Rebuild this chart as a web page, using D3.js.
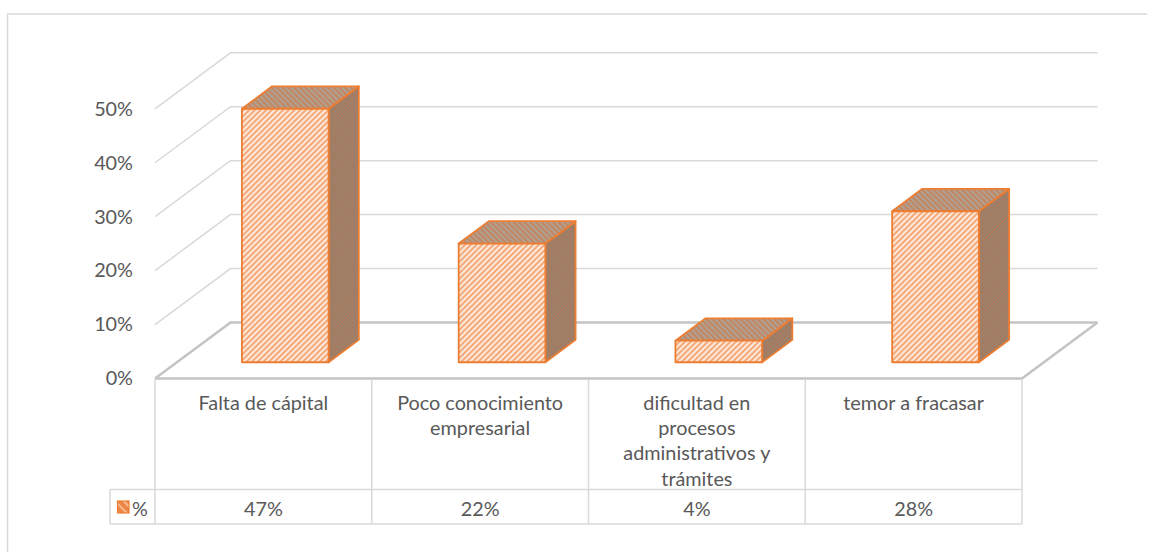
<!DOCTYPE html>
<html>
<head>
<meta charset="utf-8">
<script src="https://cdn.jsdelivr.net/npm/d3@7/dist/d3.min.js"></script>
<style>
  html, body { margin: 0; padding: 0; background: #ffffff; }
  svg { display: block; }
</style>
</head>
<body>
<svg id="chart" width="1155" height="552"></svg>
<script>
// ---- data ----
const categories = [
  "Falta de cápital",
  "Poco conocimiento empresarial",
  "dificultad en procesos administrativos y trámites",
  "temor a fracasar"
];
const seriesName = "%";
const values = [0.47, 0.22, 0.04, 0.28];
const tickValues = [0, 0.1, 0.2, 0.3, 0.4, 0.5];

// ---- layout ----
const W = 1155, H = 552;
const frontLeft = 155, frontRight = 1022;
const floorY = 378.5;
const depthDX = 75.5, depthDY = -56;      // oblique offset of the back wall
const barZ0 = 0.29, barZ1 = 0.69;          // bar depth inside the floor
const tableRowY = 489.5, tableBottom = 524, legendLeft = 110;
const textColor = "#595959";
const gridColor = "#d9d9d9";
const floorColor = "#c4c4c4";
const orange = "#ed7d31";
const fontFamily = "Lato, 'Open Sans', sans-serif";

const svg = d3.select("#chart");

// fit the label font so the text width matches the Calibri metrics of the layout
const probe = svg.append("text").attr("font-family", fontFamily).attr("font-size", 100)
  .text("Poco conocimiento");
const probeW = probe.node().getComputedTextLength();
probe.remove();
const fontSize = 100 * 166 / probeW;

const x = d3.scaleBand().domain(categories).range([frontLeft, frontRight])
  .paddingInner(0.6).paddingOuter(0.3);
const col = d3.scaleBand().domain(categories).range([frontLeft, frontRight]);
const y = d3.scaleLinear().domain([0, 0.5]).range([floorY, 108.8]);

function proj(px, v, z) {
  return [px + z * depthDX, y(v) + z * depthDY];
}
const line = d3.line();

// ---- patterns ----
const defs = svg.append("defs");
function hatch(id, bg, fg, size, width, angle) {
  const p = defs.append("pattern").attr("id", id)
    .attr("patternUnits", "userSpaceOnUse")
    .attr("width", size).attr("height", size)
    .attr("patternTransform", `rotate(${angle})`);
  p.append("rect").attr("width", size).attr("height", size).attr("fill", bg);
  p.append("line").attr("x1", size / 2).attr("y1", 0).attr("x2", size / 2).attr("y2", size)
    .attr("stroke", fg).attr("stroke-width", width);
}
hatch("hFront", "#fde8da", "#f29a62", 4, 1.6, 45);
hatch("hTop", "#b1a092", "#c77e52", 4, 1.5, -45);
hatch("hSide", "#968373", "#b1744f", 3, 1.2, 45);
hatch("hKey", "#ee8443", "#f9c9a8", 6, 1.6, -45);

// ---- outer frame ----
svg.append("path").attr("d", line([[7.5, H], [7.5, 14], [1147, 14]]))
  .attr("fill", "none").attr("stroke", gridColor).attr("stroke-width", 1.5);

// ---- walls: gridlines ----
const grid = svg.append("g");
tickValues.forEach(v => {
  const a = proj(frontLeft, v, 0), b = proj(frontLeft, v, 1), c = proj(frontRight, v, 1);
  const isFloor = v === 0;
  grid.append("path")
    .attr("d", line([a, b, c]))
    .attr("fill", "none")
    .attr("stroke", isFloor ? floorColor : gridColor)
    .attr("stroke-width", isFloor ? 2.6 : 1.5)
    .attr("stroke-linejoin", "miter");
});
// floor right edge and front edge
grid.append("path")
  .attr("d", line([proj(frontLeft, 0, 0), proj(frontRight, 0, 0), proj(frontRight, 0, 1)]))
  .attr("fill", "none").attr("stroke", floorColor).attr("stroke-width", 2.6);

// ---- y axis labels ----
const yAxis = d3.axisLeft(y).tickValues(tickValues).tickFormat(d3.format(".0%"))
  .tickSize(0).tickPadding(0);
const ya = svg.append("g").attr("transform", "translate(133,0)").call(yAxis);
ya.select(".domain").remove();
ya.selectAll("text").attr("font-family", fontFamily).attr("font-size", fontSize)
  .attr("fill", textColor);

// ---- bars ----
const bars = svg.append("g");
categories.forEach((c, i) => {
  const v = values[i];
  const x0 = x(c), x1 = x(c) + x.bandwidth();
  const g = bars.append("g")
    .attr("stroke", orange).attr("stroke-width", 1.8).attr("stroke-linejoin", "round");
  g.append("path").attr("fill", "url(#hSide)")
    .attr("d", line([proj(x1, 0, barZ0), proj(x1, 0, barZ1), proj(x1, v, barZ1), proj(x1, v, barZ0)]) + "Z");
  g.append("path").attr("fill", "url(#hTop)")
    .attr("d", line([proj(x0, v, barZ0), proj(x1, v, barZ0), proj(x1, v, barZ1), proj(x0, v, barZ1)]) + "Z");
  g.append("path").attr("fill", "url(#hFront)")
    .attr("d", line([proj(x0, 0, barZ0), proj(x1, 0, barZ0), proj(x1, v, barZ0), proj(x0, v, barZ0)]) + "Z");
});

// ---- data table ----
const table = svg.append("g").attr("stroke", gridColor).attr("stroke-width", 1.5).attr("fill", "none");
categories.forEach(c => {
  table.append("line").attr("x1", col(c)).attr("x2", col(c))
    .attr("y1", floorY + 1).attr("y2", tableBottom);
});
table.append("line").attr("x1", frontRight).attr("x2", frontRight)
  .attr("y1", floorY + 1).attr("y2", tableBottom);
table.append("line").attr("x1", legendLeft).attr("x2", frontRight)
  .attr("y1", tableRowY).attr("y2", tableRowY);
table.append("line").attr("x1", legendLeft).attr("x2", frontRight)
  .attr("y1", tableBottom).attr("y2", tableBottom);
table.append("line").attr("x1", legendLeft).attr("x2", legendLeft)
  .attr("y1", tableRowY).attr("y2", tableBottom);

// category labels, wrapped to the column width
const wrapWidth = 176;
const labels = svg.append("g").attr("font-family", fontFamily).attr("font-size", fontSize)
  .attr("fill", textColor).attr("text-anchor", "middle");
function wrap(str) {
  const words = str.split(" ");
  const lines = [];
  let cur = "";
  const t = labels.append("text");
  words.forEach(w => {
    const test = cur ? cur + " " + w : w;
    t.text(test);
    if (t.node().getComputedTextLength() > wrapWidth && cur) {
      lines.push(cur);
      cur = w;
    } else {
      cur = test;
    }
  });
  if (cur) lines.push(cur);
  t.remove();
  return lines;
}
categories.forEach(c => {
  const lines = wrap(c);
  const t = labels.append("text").attr("x", col(c) + col.bandwidth() / 2);
  lines.forEach((ln, k) => {
    t.append("tspan").attr("x", col(c) + col.bandwidth() / 2)
      .attr("y", 401.7 + k * 25.3).attr("dominant-baseline", "central").text(ln);
  });
});

// value row
const fmt = d3.format(".0%");
categories.forEach((c, i) => {
  labels.append("text")
    .attr("x", col(c) + col.bandwidth() / 2)
    .attr("y", (tableRowY + tableBottom) / 2 + 1)
    .attr("dominant-baseline", "central")
    .text(fmt(values[i]));
});

// legend key in the value row
svg.append("rect").attr("x", 117.5).attr("y", 501).attr("width", 11.5).attr("height", 12)
  .attr("fill", "url(#hKey)").attr("stroke", orange).attr("stroke-width", 1.2);
labels.append("text").attr("x", 132).attr("y", (tableRowY + tableBottom) / 2 + 1)
  .attr("text-anchor", "start").attr("dominant-baseline", "central").text(seriesName);
</script>
</body>
</html>
